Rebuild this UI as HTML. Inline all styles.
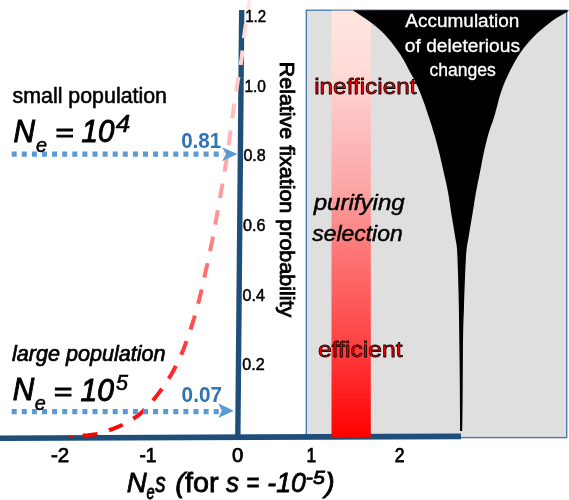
<!DOCTYPE html>
<html><head><meta charset="utf-8">
<style>
html,body{margin:0;padding:0;background:#fff;}
body{width:569px;height:500px;overflow:hidden;}
svg{display:block;}
text{font-family:"Liberation Sans",sans-serif;}
.i{font-style:italic;}
.k{stroke:#000;stroke-width:0.55px;}
.kb{stroke:#000;stroke-width:1px;}
.k2{stroke:#000;stroke-width:0.5px;}
.k3{stroke:#000;stroke-width:0.8px;}
</style></head><body>
<svg width="569" height="500" viewBox="0 0 569 500">
<defs>
<linearGradient id="band" gradientUnits="userSpaceOnUse" x1="0" y1="10" x2="0" y2="437">
<stop offset="0" stop-color="#fee6e0"/>
<stop offset="0.14" stop-color="#fedcd8"/>
<stop offset="0.234" stop-color="#fdc6c6"/>
<stop offset="0.42" stop-color="#fca5a5"/>
<stop offset="0.56" stop-color="#fd7878"/>
<stop offset="0.77" stop-color="#fe4545"/>
<stop offset="1" stop-color="#ff0000"/>
</linearGradient>
<linearGradient id="curve" gradientUnits="userSpaceOnUse" x1="0" y1="0" x2="0" y2="437">
<stop offset="0" stop-color="#ffe6e6"/>
<stop offset="0.2" stop-color="#ffc8c8"/>
<stop offset="0.45" stop-color="#ff9c9c"/>
<stop offset="0.7" stop-color="#ff5a5a"/>
<stop offset="0.9" stop-color="#ff1a1a"/>
<stop offset="1" stop-color="#ff0000"/>
</linearGradient>
<pattern id="dith" width="2" height="2" patternUnits="userSpaceOnUse"><rect width="2" height="2" fill="#dbdcdc"/><rect width="1" height="1" fill="#e2e2e2"/><rect x="1" y="1" width="1" height="1" fill="#e2e2e2"/></pattern>
</defs>
<rect width="569" height="500" fill="#fff"/>
<!-- gray panel -->
<rect x="306.3" y="10.2" width="260.4" height="427.4" fill="url(#dith)" stroke="#4175aa" stroke-width="1.3"/>
<!-- axes -->
<path d="M0,435.4 L461,433.4 L461,439.3 L0,440.9 Z" fill="#1f4e79"/>
<path d="M239,10 L244.4,10 L240.5,440 L235.1,440 Z" fill="#1f4e79"/>
<!-- red band -->
<rect x="331.5" y="10.7" width="39.3" height="426.8" fill="url(#band)"/>
<!-- funnel -->
<path d="M352.5,10.3 L355.5,12.0 L360.0,15.0 L364.5,18.0 L368.9,21.0 L373.0,24.0 L376.7,27.0 L380.1,30.0 L383.2,33.0 L386.1,36.0 L388.7,39.0 L391.2,42.0 L393.5,45.0 L395.7,48.0 L397.9,51.0 L400.0,54.0 L401.9,57.0 L403.7,60.0 L405.3,63.0 L406.9,66.0 L408.4,69.0 L410.0,72.0 L411.7,75.0 L413.4,78.0 L415.0,81.0 L416.4,84.0 L417.8,87.0 L419.1,90.0 L420.3,93.0 L421.5,96.0 L422.6,99.0 L423.7,102.0 L424.8,105.0 L425.8,108.0 L426.8,111.0 L427.8,114.0 L428.8,117.0 L429.8,120.0 L430.8,123.0 L431.8,126.0 L432.7,129.0 L433.6,132.0 L434.5,135.0 L435.4,138.0 L436.2,141.0 L437.0,144.0 L437.8,147.0 L438.6,150.0 L439.3,153.0 L440.1,156.0 L440.7,159.0 L441.4,162.0 L442.1,165.0 L442.8,168.0 L443.4,171.0 L444.1,174.0 L444.8,177.0 L445.5,180.0 L446.2,183.0 L446.8,186.0 L447.4,189.0 L448.0,192.0 L448.5,195.0 L449.0,198.0 L449.4,201.0 L449.9,204.0 L450.3,207.0 L450.8,210.0 L451.2,213.0 L451.7,216.0 L452.2,219.0 L452.7,222.0 L453.2,225.0 L453.7,228.0 L454.2,231.0 L454.7,234.0 L455.2,237.0 L455.7,240.0 L456.3,243.0 L456.7,246.0 L457.0,249.0 L457.2,252.0 L457.3,255.0 L457.5,258.0 L457.6,261.0 L457.7,265.0 L458.2,280.0 L458.6,295.0 L458.9,310.0 L459.1,325.0 L459.3,340.0 L459.5,355.0 L459.7,370.0 L459.8,385.0 L459.9,400.0 L460.0,415.0 L460.0,430.0 L460.0,431.0 L462.2,431.0 L462.2,430.0 L462.4,415.0 L462.6,400.0 L462.7,385.0 L462.8,370.0 L462.9,355.0 L463.0,340.0 L463.3,325.0 L463.9,310.0 L464.3,295.0 L464.9,280.0 L465.5,265.0 L465.8,261.0 L465.9,258.0 L466.1,255.0 L466.3,252.0 L466.6,249.0 L467.0,246.0 L467.5,243.0 L468.1,240.0 L468.6,237.0 L469.1,234.0 L469.6,231.0 L470.1,228.0 L470.6,225.0 L471.1,222.0 L471.6,219.0 L472.1,216.0 L472.6,213.0 L473.1,210.0 L473.6,207.0 L474.1,204.0 L474.5,201.0 L475.0,198.0 L475.5,195.0 L476.0,192.0 L476.6,189.0 L477.2,186.0 L477.7,183.0 L478.4,180.0 L479.0,177.0 L479.6,174.0 L480.2,171.0 L480.8,168.0 L481.4,165.0 L481.9,162.0 L482.5,159.0 L483.1,156.0 L483.7,153.0 L484.4,150.0 L485.1,147.0 L485.8,144.0 L486.5,141.0 L487.3,138.0 L488.1,135.0 L489.0,132.0 L489.9,129.0 L491.0,126.0 L492.1,123.0 L493.2,120.0 L494.1,117.0 L495.0,114.0 L495.8,111.0 L496.6,108.0 L497.4,105.0 L498.2,102.0 L498.9,99.0 L499.8,96.0 L500.7,93.0 L501.8,90.0 L502.8,87.0 L504.0,84.0 L505.2,81.0 L506.6,78.0 L508.0,75.0 L509.4,72.0 L510.9,69.0 L512.5,66.0 L514.1,63.0 L515.8,60.0 L517.6,57.0 L519.5,54.0 L521.6,51.0 L523.8,48.0 L526.2,45.0 L528.8,42.0 L531.5,39.0 L534.4,36.0 L537.5,33.0 L540.9,30.0 L544.5,27.0 L548.2,24.0 L552.1,21.0 L556.4,18.0 L561.7,15.0 L567.1,12.0 L569.0,10.3Z" fill="#000"/>
<!-- curve -->
<path d="M71.7,436.0 L75.7,435.9 L79.8,435.8 L83.7,435.5 L87.7,435.2 L91.6,434.8 L95.6,434.2 L99.5,433.3 L103.4,432.1 L107.2,430.8 L111.0,429.5 L114.7,428.1 L118.4,426.6 L122.1,425.0 L125.8,423.2 L129.3,421.2 L132.8,419.1 L136.0,416.9 L139.2,414.6 L142.1,412.0 L145.0,409.3 L147.8,406.3 L150.5,403.3 L153.1,400.2 L155.7,397.0 L158.1,393.9 L160.5,390.7 L162.9,387.5 L165.2,384.2 L167.4,380.8 L169.5,377.4 L171.5,374.0 L173.5,370.5 L175.3,367.0 L177.2,363.4 L178.9,359.8 L180.6,356.1 L182.2,352.4 L183.7,348.8 L185.1,345.0 L186.5,341.3 L187.9,337.5 L189.2,333.7 L190.4,329.9 L191.6,326.1 L192.8,322.3 L194.0,318.5 L195.1,314.6 L196.2,310.8 L197.2,306.9 L198.3,303.0 L199.3,299.2 L200.2,295.3 L201.2,291.4 L202.1,287.5 L203.0,283.6 L203.8,279.7 L204.7,275.8 L205.5,271.9 L206.4,268.0 L207.3,264.1 L208.1,260.2 L209.0,256.3 L209.8,252.3 L210.6,248.4 L211.4,244.5 L212.2,240.6 L212.9,236.7 L213.7,232.7 L214.4,228.8 L215.1,224.9 L215.9,220.9 L216.6,217.0 L217.3,213.0 L218.0,209.1 L218.7,205.2 L219.4,201.2 L220.1,197.3 L220.8,193.4 L221.5,189.4 L222.2,185.5 L222.9,181.5 L223.5,177.6 L224.2,173.7 L224.9,169.7 L225.5,165.8 L226.2,161.8 L226.8,157.9 L227.4,153.9 L227.9,149.9 L228.5,146.0 L229.1,142.0 L229.6,138.1 L230.1,134.1 L230.7,130.1 L231.2,126.2 L231.8,122.2 L232.3,118.2 L232.8,114.3 L233.4,110.3 L233.9,106.4 L234.5,102.4 L235.1,98.4 L235.7,94.5 L236.3,90.5 L236.9,86.6 L237.5,82.6 L238.2,78.7 L238.9,74.7 L239.6,70.8 L240.3,66.9 L240.9,62.9 L241.5,59.0 L242.0,55.0 L242.5,51.0 L243.0,47.0 L243.4,43.1 L243.8,39.1 L244.3,35.1 L244.8,31.2 L245.4,27.2 L245.9,23.2 L246.5,19.3 L247.1,15.3 L247.7,11.4 L248.4,7.4 L249.0,3.5 L249.7,-0.5 L250.3,-4.4 L250.8,-8.4" fill="none" stroke="url(#curve)" stroke-width="4" stroke-dasharray="14.75 12.2" stroke-dashoffset="-11"/>
<path d="M69.6,437 L72,434.4 L74,437 Z" fill="#ff0000"/>
<!-- dotted arrows -->
<line x1="11.7" y1="154.1" x2="224" y2="154.1" stroke="#5b9bd5" stroke-width="5.2" stroke-dasharray="5 5.1"/>
<path d="M222,147.2 L237.5,154 L222,161.2 L226,154 Z" fill="#5b9bd5"/>
<line x1="11.7" y1="411.6" x2="220" y2="411.6" stroke="#5b9bd5" stroke-width="5.2" stroke-dasharray="5 5.1"/>
<path d="M218.3,403.2 L233.8,410.8 L218.3,418 L221.8,410.8 Z" fill="#5b9bd5"/>
<!-- left labels -->
<text x="12.5" y="103.2" font-size="21.5" class="k" textLength="154.5" lengthAdjust="spacingAndGlyphs">small population</text>
<g class="i kb">
<text x="13.5" y="141.9" font-size="32" textLength="21.5" lengthAdjust="spacingAndGlyphs">N</text>
<text x="36" y="151.6" font-size="20.7" textLength="11" lengthAdjust="spacingAndGlyphs" class="i k">e</text>
<text x="55" y="141.3" font-size="26" textLength="18.5" lengthAdjust="spacingAndGlyphs">=</text>
<text x="81.6" y="141.9" font-size="32" textLength="32.8" lengthAdjust="spacingAndGlyphs">10</text>
<text x="115.7" y="131.8" font-size="23" textLength="14.5" lengthAdjust="spacingAndGlyphs" class="i k">4</text>
</g>
<text x="181.2" y="147.7" font-size="21.5" font-weight="bold" fill="#2e75b6" textLength="40" lengthAdjust="spacingAndGlyphs">0.81</text>
<text x="12" y="360.9" font-size="21.5" class="i k" style="stroke-width:0.7px" textLength="153.5" lengthAdjust="spacingAndGlyphs">large population</text>
<g class="i kb">
<text x="12.7" y="400.4" font-size="32" textLength="21.5" lengthAdjust="spacingAndGlyphs">N</text>
<text x="34.8" y="409.7" font-size="21" textLength="11" lengthAdjust="spacingAndGlyphs" class="i k">e</text>
<text x="53.6" y="399.7" font-size="26" textLength="18.5" lengthAdjust="spacingAndGlyphs">=</text>
<text x="80.6" y="400.8" font-size="32" textLength="33.4" lengthAdjust="spacingAndGlyphs">10</text>
<text x="116" y="390.2" font-size="22.5" textLength="12" lengthAdjust="spacingAndGlyphs" class="i k">5</text>
</g>
<text x="181.6" y="401.5" font-size="21.5" font-weight="bold" fill="#2e75b6" textLength="40.4" lengthAdjust="spacingAndGlyphs">0.07</text>
<!-- y ticks -->
<g font-size="16.5" class="k2">
<text x="245.2" y="22.2" textLength="21" lengthAdjust="spacingAndGlyphs">1.2</text>
<text x="244.4" y="91.5" textLength="21.5" lengthAdjust="spacingAndGlyphs">1.0</text>
<text x="243.4" y="161" textLength="22.4" lengthAdjust="spacingAndGlyphs">0.8</text>
<text x="243" y="230.6" textLength="22.4" lengthAdjust="spacingAndGlyphs">0.6</text>
<text x="242.6" y="300.6" textLength="22.4" lengthAdjust="spacingAndGlyphs">0.4</text>
<text x="242.2" y="370.3" textLength="22.4" lengthAdjust="spacingAndGlyphs">0.2</text>
</g>
<text transform="translate(279.7,61.7) rotate(90)" font-size="19.6" class="k3" textLength="255.5" lengthAdjust="spacingAndGlyphs">Relative fixation probability</text>
<!-- x ticks -->
<g font-size="19.5" class="k2" style="stroke-width:0.75px">
<text x="50.9" y="462.4" textLength="18.2" lengthAdjust="spacingAndGlyphs">-2</text>
<text x="139.4" y="462.4" textLength="16.9" lengthAdjust="spacingAndGlyphs">-1</text>
<text x="231.9" y="462.4" textLength="11.3" lengthAdjust="spacingAndGlyphs">0</text>
<text x="306.6" y="462.4" textLength="9.6" lengthAdjust="spacingAndGlyphs">1</text>
<text x="394.7" y="462.4" textLength="9.8" lengthAdjust="spacingAndGlyphs">2</text>
</g>
<g font-size="28.3" class="k3">
<text class="i" x="126.8" y="491.7" textLength="20" lengthAdjust="spacingAndGlyphs">N</text>
<text class="i" x="146.4" y="499.4" font-size="20.5" textLength="8.2" lengthAdjust="spacingAndGlyphs">e</text>
<text class="i" x="155.2" y="491.7" textLength="10.4" lengthAdjust="spacingAndGlyphs">s</text>
<text x="175.3" y="491.7" textLength="43.3" lengthAdjust="spacingAndGlyphs"><tspan class="i">(</tspan>for</text>
<text class="i" x="226" y="491.7" textLength="13" lengthAdjust="spacingAndGlyphs">s</text>
<text class="i" x="246.3" y="491.7" textLength="13" lengthAdjust="spacingAndGlyphs">=</text>
<text class="i" x="267.3" y="491.7" textLength="38.6" lengthAdjust="spacingAndGlyphs">-10</text>
<text class="i" x="305.8" y="484.3" font-size="19" textLength="19" lengthAdjust="spacingAndGlyphs">-5</text>
<text class="i" x="325.3" y="491.7" textLength="9.5" lengthAdjust="spacingAndGlyphs">)</text>
</g>
<!-- panel labels -->
<g font-size="22.8" fill="#ff0000" stroke="#0a0000" stroke-width="0.8" stroke-linejoin="round">
<text x="314.2" y="93.8" textLength="102.3" lengthAdjust="spacingAndGlyphs">inefficient</text>
<text x="317.9" y="357.4" textLength="84.8" lengthAdjust="spacingAndGlyphs">efficient</text>
</g>
<g font-size="21.6" class="i" stroke="#000" stroke-width="0.45">
<text x="313.7" y="210.2" textLength="91" lengthAdjust="spacingAndGlyphs">purifying</text>
<text x="312.2" y="241.2" textLength="90.5" lengthAdjust="spacingAndGlyphs">selection</text>
</g>
<g font-size="17.5" fill="#fff" stroke="#fff" stroke-width="0.3">
<text x="405.3" y="27.4" textLength="114" lengthAdjust="spacingAndGlyphs">Accumulation</text>
<text x="404.8" y="52.2" textLength="115.2" lengthAdjust="spacingAndGlyphs">of deleterious</text>
<text x="429.4" y="76.4" textLength="66.5" lengthAdjust="spacingAndGlyphs">changes</text>
</g>
</svg>
</body></html>
